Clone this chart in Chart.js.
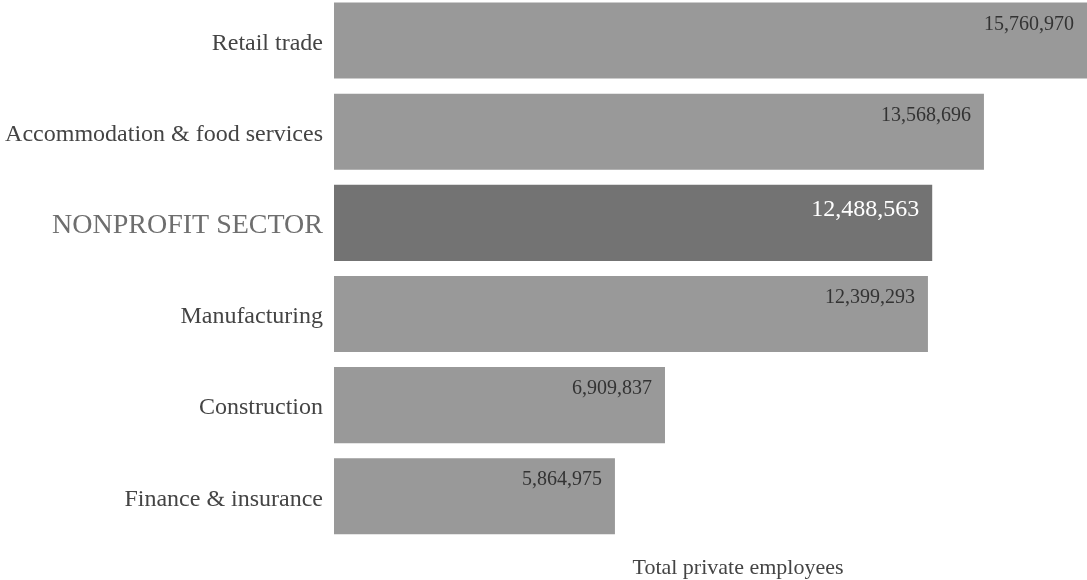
<!DOCTYPE html>
<html>
<head>
<meta charset="utf-8">
<script src="https://cdn.jsdelivr.net/npm/chart.js@4"></script>
<style>
  html, body { margin: 0; padding: 0; background: #fff; overflow: hidden; }
  #wrap { width: 1087px; height: 585px; position: relative; top: -5px; }
</style>
</head>
<body>
<div id="wrap"><canvas id="employeesChart"></canvas></div>
<script>
const industries = ['Retail trade', 'Accommodation & food services', 'NONPROFIT SECTOR', 'Manufacturing', 'Construction', 'Finance & insurance'];
const employees = [15760970, 13568696, 12488563, 12399293, 6909837, 5864975];
const highlightIndex = 2;
const axisTitle = 'Total private employees';

const serif = '"Liberation Serif", "DejaVu Serif", serif';

// draw value labels inside the right end of each bar
const valueLabels = {
    id: 'valueLabels',
    afterDatasetsDraw(chart) {
        const ctx = chart.ctx;
        const meta = chart.getDatasetMeta(0);
        ctx.save();
        ctx.textAlign = 'right';
        ctx.textBaseline = 'middle';
        meta.data.forEach((bar, i) => {
            const hi = i === highlightIndex;
            ctx.font = (hi ? '24px ' : '20px ') + serif;
            ctx.fillStyle = hi ? '#ffffff' : '#333333';
            const top = bar.y - bar.height / 2;
            const x = Math.min(bar.x, chart.chartArea.right) - 13;
            ctx.fillText(employees[i].toLocaleString('en-US'), x, top + (hi ? 25 : 22));
        });
        ctx.restore();
    }
};

const ctx = document.getElementById('employeesChart').getContext('2d');
const chart = new Chart(ctx, {
    type: 'bar',
    data: {
        labels: industries,
        datasets: [{
            label: axisTitle,
            data: employees,
            backgroundColor: employees.map((_, i) => i === highlightIndex ? '#737373' : '#999999'),
            borderWidth: 0,
            barPercentage: 0.835,
            categoryPercentage: 1
        }]
    },
    options: {
        indexAxis: 'y',
        responsive: true,
        maintainAspectRatio: false,
        animation: false,
        layout: { padding: { top: 0, right: 0, bottom: 0, left: 0 } },
        plugins: {
            legend: { display: false },
            tooltip: { enabled: false }
        },
        scales: {
            x: {
                min: 0,
                max: 15720000,
                grid: { display: false, drawTicks: false },
                border: { display: false },
                ticks: { display: false },
                title: {
                    display: true,
                    // title sits a little right of the plot centre in the original
                    text: '\u2003\u2003\u2002' + axisTitle,
                    color: '#444444',
                    font: { family: serif, size: 22, lineHeight: 1.1 },
                    padding: { top: 14, bottom: 0 }
                }
            },
            y: {
                grid: { display: false, drawTicks: false },
                border: { display: false },
                ticks: {
                    padding: 11,
                    labelOffset: 3,
                    color: c => c.index === highlightIndex ? '#6e6e6e' : '#444444',
                    font: c => ({ family: serif, size: c.index === highlightIndex ? 28 : 24 })
                },
                afterFit: scale => {
                    scale.width = 334;
                    scale.paddingTop = 0;
                    scale.paddingBottom = 0;
                }
            }
        }
    },
    plugins: [valueLabels]
});
</script>
</body>
</html>
